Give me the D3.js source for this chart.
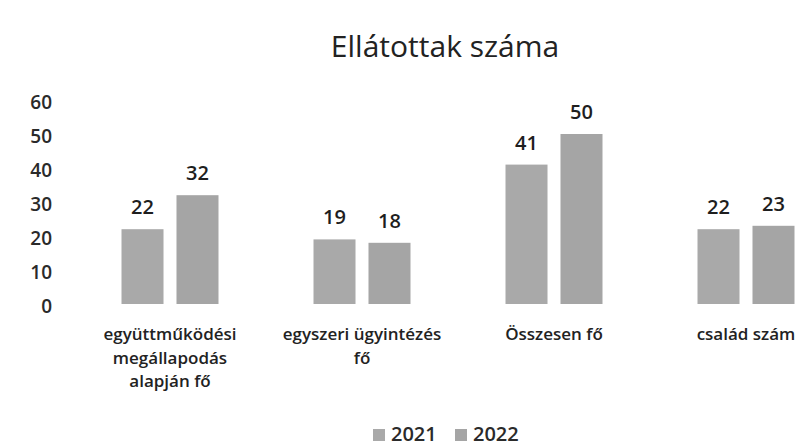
<!DOCTYPE html>
<html>
<head>
<meta charset="utf-8">
<script src="https://cdnjs.cloudflare.com/ajax/libs/d3/7.8.5/d3.min.js"></script>
<style>
  body { margin: 0; background: #fff; }
  svg text { font-family: "Open Sans", Lato, sans-serif; }
</style>
</head>
<body>
<script>
// chart data
var categories = [
  ["együttműködési", "megállapodás", "alapján fő"],
  ["egyszeri ügyintézés", "fő"],
  ["Összesen fő"],
  ["család szám"]
];
var series = ["2021", "2022"];
var values2021 = [22, 19, 41, 22];
var values2022 = [32, 18, 50, 23];
var yTicks = [0, 10, 20, 30, 40, 50, 60];

var W = 803, H = 448;
var svg = d3.select("body").append("svg")
  .attr("width", W)
  .attr("height", H);

var catKeys = categories.map(function(c, i) { return i; });

var x0 = d3.scaleBand().domain(catKeys).range([74, 842]);
var x1 = d3.scaleBand().domain(series).range([0, x0.bandwidth()])
  .paddingInner(0.236).paddingOuter(0.864);
var y = d3.scaleLinear().domain([0, 60]).range([304, 100]);

var colors = { "2021": "#a9a9a9", "2022": "#a5a5a5" };

// title
svg.append("text")
  .attr("x", 445).attr("y", 57)
  .attr("text-anchor", "middle")
  .style("font-size", "30px")
  .style("font-weight", "500")
  .style("fill", "#222")
  .text("Ellátottak száma");

// y axis labels only
var yAxis = d3.axisLeft(y).tickValues(yTicks).tickSize(0).tickPadding(0);
var yg = svg.append("g").attr("transform", "translate(52,2)").call(yAxis);
yg.select(".domain").remove();
yg.selectAll("text")
  .style("font-family", "'Open Sans', sans-serif")
  .style("font-size", "19px")
  .style("font-weight", "600")
  .style("fill", "#2a2a2a")
  .attr("dy", "0.35em");

var rows = catKeys.map(function(i) {
  return [
    { s: "2021", v: values2021[i] },
    { s: "2022", v: values2022[i] }
  ];
});

var groups = svg.selectAll("g.grp")
  .data(rows)
  .enter().append("g")
  .attr("class", "grp")
  .attr("transform", function(d, i) { return "translate(" + x0(i) + ",0)"; });

groups.selectAll("rect")
  .data(function(d) { return d; })
  .enter().append("rect")
  .attr("x", function(d) { return x1(d.s); })
  .attr("y", function(d) { return y(d.v); })
  .attr("width", x1.bandwidth())
  .attr("height", function(d) { return y(0) - y(d.v); })
  .style("fill", function(d) { return colors[d.s]; });

groups.selectAll("text.val")
  .data(function(d) { return d; })
  .enter().append("text")
  .attr("class", "val")
  .attr("x", function(d) { return x1(d.s) + x1.bandwidth() / 2; })
  .attr("y", function(d) { return y(d.v) - 15; })
  .attr("text-anchor", "middle")
  .style("font-size", "20px")
  .style("font-weight", "600")
  .style("fill", "#1e1e1e")
  .text(function(d) { return d.v; });

// category labels
var catLabels = svg.selectAll("text.cat")
  .data(categories)
  .enter().append("text")
  .attr("class", "cat")
  .attr("text-anchor", "middle")
  .attr("y", 340)
  .style("font-size", "17px")
  .style("font-weight", "600")
  .style("fill", "#222");

catLabels.each(function(lines, i) {
  var t = d3.select(this);
  lines.forEach(function(line, k) {
    t.append("tspan")
      .attr("x", x0(i) + x0.bandwidth() / 2)
      .attr("dy", k === 0 ? 0 : 23.5)
      .text(line);
  });
});

// legend
var legend = svg.append("g").attr("transform", "translate(373,441)");
var lg = legend.selectAll("g")
  .data(series)
  .enter().append("g")
  .attr("transform", function(d, i) { return "translate(" + (i * 82) + ",0)"; });
lg.append("rect")
  .attr("x", 0).attr("y", -12)
  .attr("width", 12).attr("height", 12)
  .style("fill", function(d) { return colors[d]; });
lg.append("text")
  .attr("x", 18).attr("y", 0)
  .style("font-size", "20px")
  .style("font-weight", "600")
  .style("fill", "#2a2a2a")
  .text(function(d) { return d; });
</script>
</body>
</html>
